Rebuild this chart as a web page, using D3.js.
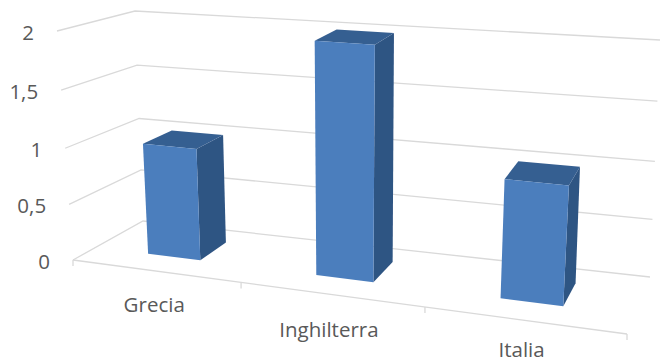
<!DOCTYPE html>
<html><head><meta charset="utf-8">
<script src="https://cdn.jsdelivr.net/npm/d3@7"></script>
<style>html,body{margin:0;background:#fff}svg{display:block}text{font-family:"Open Sans",sans-serif;fill:#595959}</style>
</head><body><svg id="c" width="660" height="363"></svg>
<script>
const categories = ["Grecia","Inghilterra","Italia"];
const values = [1,2,1];
const valueTicks = [0,0.5,1,1.5,2];
const tickLabels = ["0","0,5","1","1,5","2"];

const svg=d3.select("#c");
const defs=svg.append("defs");
defs.append("filter").attr("id","soft").append("feGaussianBlur").attr("stdDeviation",0.4);
// plane corners: front-left, front-right, back-right, back-left
const floorQuad=[[73,260],[627,334],[650,277],[143,221]];
const topQuad=[[57,31],[645,76],[660,40],[135,11]];
const persp=-0.129;
const warp=u=>(1+persp)*u/(1+persp*u);
const lerp=(a,b,t)=>a+(b-a)*t;
const lerp2=(a,b,t)=>[lerp(a[0],b[0],t),lerp(a[1],b[1],t)];
function plane(q,u,w){const m=warp(u);return lerp2(lerp2(q[0],q[1],m),lerp2(q[3],q[2],m),w);}
const yT=d3.scaleLinear().domain(valueTicks).range([0,0.243,0.488,0.742,1]);
const xBand=d3.scaleBand().domain(categories).range([-0.004,0.996]).paddingInner(0.68).paddingOuter(0.34);
const depth=d3.scaleLinear().domain([0,1]).range([0.33,0.75]);
function P(u,w,v){return lerp2(plane(floorQuad,u,w),plane(topQuad,u,w),yT(v));}
const line=d3.line();
const grid=svg.append("g").attr("fill","none").attr("stroke","#d9d9d9").attr("stroke-width",1.3).attr("filter","url(#soft)");
valueTicks.forEach(v=>{
  grid.append("path").attr("d",line([P(0,0,v),P(0,1,v),P(1,1,v)]));
});
grid.append("path").attr("d",line([P(0,0,0),P(1,0,0)]));
d3.range(0,4).forEach(i=>{const p=P(i/3,0,0);grid.append("path").attr("d",line([p,[p[0],p[1]+6]]));});

const faces=svg.append("g").attr("filter","url(#soft)");
categories.forEach((c,i)=>{
  const u0=xBand(c),u1=u0+xBand.bandwidth(),v=values[i],w0=depth(0),w1=depth(1);
  const poly=(pts,fill)=>faces.append("path").attr("d",line(pts)+"Z").attr("fill",fill);
  poly([P(u1,w0,0),P(u1,w1,0),P(u1,w1,v),P(u1,w0,v)],"#2f5483");
  poly([P(u0,w0,v),P(u1,w0,v),P(u1,w1,v),P(u0,w1,v)],"#365f91");
  poly([P(u0,w0,0),P(u1,w0,0),P(u1,w0,v),P(u0,w0,v)],"#4c7ebd");
});
valueTicks.forEach((v,i)=>{
  const p=P(0,0,v);
  svg.append("text").attr("x",p[0]-23).attr("y",p[1]+9).attr("text-anchor","end").attr("font-size",20.5).text(tickLabels[i]);
});
const labelDy=[41,43,37];
const labelDx=[-1,-2,-2];
categories.forEach((c,i)=>{
  const p=P((i+0.5)/3,0,0);
  svg.append("text").attr("x",p[0]+labelDx[i]).attr("y",p[1]+labelDy[i]).attr("text-anchor","middle").attr("font-size",20.5).text(c);
});
</script></body></html>
